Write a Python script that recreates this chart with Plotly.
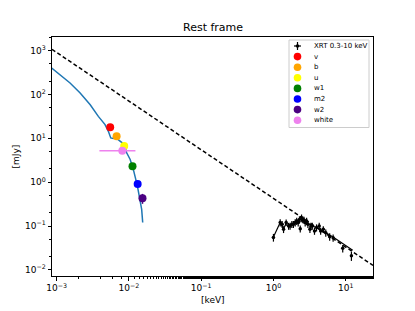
import plotly.graph_objects as go

# ---------------- data ----------------
# power-law (dashed)
pl_x = [8.6e-4, 23.9]
pl_y = [1072, 0.0126]

# optical/UV model curve (blue)
model_x = [8.53e-4, 1.11e-3, 1.53e-3, 2.11e-3, 2.91e-3, 3.77e-3, 4.67e-3, 5.19e-3, 5.6e-3,
           6.08e-3, 6.5e-3, 7.1e-3, 8.0e-3, 8.8e-3, 9.3e-3, 1.04e-2, 1.15e-2, 1.31e-2, 1.43e-2,
           1.50e-2, 1.55e-2]
model_y = [398, 281, 182, 108, 58, 31.6, 20.5, 14.4, 10.2,
           9.9, 10.6, 9.3, 8.0, 6.6, 4.66, 3.3, 1.95, 0.81, 0.41,
           0.24, 0.12]

# UVOT filters
uv_names = ["v", "b", "u", "w1", "m2", "w2", "white"]
uv_colors = ["red", "orange", "yellow", "green", "blue", "indigo", "violet"]
uv_x = [5.5e-3, 6.75e-3, 8.6e-3, 1.12e-2, 1.32e-2, 1.54e-2, 8.1e-3]
uv_y = [17.8, 11.2, 6.7, 2.3, 0.91, 0.43, 5.2]
uv_xerr_minus = [0, 0, 0, 0, 0, 0.0012, 0.0042]
uv_xerr_plus = [0, 0, 0, 0, 0, 0.0013, 0.0042]
uv_yerr = [0, 0, 0, 0, 0, 0.11, 0]

# XRT 0.3-10 keV
xrt_x = [1.00, 1.24, 1.32, 1.38, 1.50, 1.62, 1.70, 1.80, 1.89, 2.00, 2.10, 2.20, 2.29, 2.35, 2.45,
         2.55, 2.65, 2.75, 2.88, 3.00, 3.20, 3.30, 3.45, 3.70, 3.95, 4.30, 4.50, 4.90, 5.30, 6.00,
         6.70, 9.10, 12.0]
xrt_y = [0.055, 0.12, 0.11, 0.084, 0.12, 0.10, 0.10, 0.11, 0.11, 0.12, 0.13, 0.12, 0.14, 0.087, 0.155,
         0.14, 0.137, 0.12, 0.13, 0.11, 0.084, 0.10, 0.10, 0.077, 0.092, 0.10, 0.077, 0.084, 0.07, 0.057,
         0.054, 0.031, 0.021]
xrt_yerr = [0.011, 0.022, 0.02, 0.015, 0.02, 0.018, 0.018, 0.02, 0.02, 0.022, 0.024, 0.022, 0.026, 0.016, 0.028,
            0.025, 0.025, 0.022, 0.024, 0.02, 0.015, 0.018, 0.018, 0.014, 0.017, 0.018, 0.014, 0.015, 0.013, 0.011,
            0.01, 0.006, 0.005]
xrt_xerr = [0.05, 0.04, 0.04, 0.04, 0.04, 0.05, 0.05, 0.05, 0.05, 0.05, 0.05, 0.05, 0.05, 0.05, 0.05,
            0.05, 0.05, 0.05, 0.06, 0.06, 0.07, 0.07, 0.07, 0.08, 0.08, 0.1, 0.1, 0.1, 0.12, 0.15,
            0.2, 0.3, 0.4]
xrt_line_x = [1.0, 1.24, 1.38, 1.5, 1.7, 2.0, 2.3, 2.6, 3.0, 3.5, 4.0, 5.0, 6.0, 7.0, 12.5]
xrt_line_y = [0.056, 0.12, 0.085, 0.115, 0.105, 0.115, 0.125, 0.125, 0.115, 0.1, 0.09, 0.075, 0.062, 0.053, 0.028]

legend_labels = ["XRT 0.3-10 keV"] + uv_names
legend_colors = ["black"] + uv_colors

x_tick_vals = [1e-3, 1e-2, 1e-1, 1, 10]
x_tick_text = ["10<sup>−3</sup>", "10<sup>−2</sup>", "10<sup>−1</sup>", "10<sup>0</sup>", "10<sup>1</sup>"]
y_tick_vals = [1e-2, 1e-1, 1, 10, 100, 1000]
y_tick_text = ["10<sup>−2</sup>", "10<sup>−1</sup>", "10<sup>0</sup>", "10<sup>1</sup>", "10<sup>2</sup>",
               "10<sup>3</sup>"]

# ---------------- figure ----------------
FONT = "DejaVu Sans"
fig = go.Figure()

fig.add_trace(go.Scatter(x=pl_x, y=pl_y, mode="lines",
                         line=dict(color="black", width=1.5, dash="4px,2.5px"), showlegend=False))
fig.add_trace(go.Scatter(x=model_x, y=model_y, mode="lines",
                         line=dict(color="#1f77b4", width=1.5), showlegend=False))
fig.add_trace(go.Scatter(x=xrt_line_x, y=xrt_line_y, mode="lines",
                         line=dict(color="black", width=1.2), showlegend=False))
fig.add_trace(go.Scatter(x=xrt_x, y=xrt_y, mode="markers",
                         marker=dict(color="black", size=3.5),
                         error_y=dict(type="data", array=xrt_yerr, color="black", thickness=1.2, width=0),
                         error_x=dict(type="data", array=xrt_xerr, color="black", thickness=1.2, width=0),
                         showlegend=False))
for i in range(len(uv_names)):
    fig.add_trace(go.Scatter(
        x=[uv_x[i]], y=[uv_y[i]], mode="markers",
        marker=dict(color=uv_colors[i], size=8),
        error_x=dict(type="data", symmetric=False, array=[uv_xerr_plus[i]], arrayminus=[uv_xerr_minus[i]],
                     color=uv_colors[i], thickness=1.5, width=0, visible=uv_xerr_plus[i] > 0),
        error_y=dict(type="data", array=[uv_yerr[i]], color=uv_colors[i], thickness=1.5, width=0,
                     visible=uv_yerr[i] > 0),
        showlegend=False))

# ---------------- manual legend (paper coordinates) ----------------
L, R, T, B = 289, 369, 40, 127.5
X0, X1, Y0, Y1 = 52, 373, 37, 276


def px(x):
    return (x - X0) / (X1 - X0)


def py(y):
    return (Y1 - y) / (Y1 - Y0)


shapes = [dict(type="rect", xref="paper", yref="paper", x0=px(L), x1=px(R), y0=py(B), y1=py(T),
               line=dict(color="#cccccc", width=1), fillcolor="rgba(255,255,255,0.8)", layer="above")]
annotations = []
for i, (lab, col) in enumerate(zip(legend_labels, legend_colors)):
    yc = 46 + i * 10.6
    if i == 0:
        shapes.append(dict(type="line", xref="paper", yref="paper", xsizemode="pixel", ysizemode="pixel",
                           xanchor=px(297.5), yanchor=py(yc), x0=-3.5, x1=3.5, y0=0, y1=0,
                           line=dict(color="black", width=1.2), layer="above"))
        shapes.append(dict(type="line", xref="paper", yref="paper", xsizemode="pixel", ysizemode="pixel",
                           xanchor=px(297.5), yanchor=py(yc), x0=0, x1=0, y0=-4, y1=4,
                           line=dict(color="black", width=1.2), layer="above"))
        shapes.append(dict(type="circle", xref="paper", yref="paper", xsizemode="pixel", ysizemode="pixel",
                           xanchor=px(297.5), yanchor=py(yc), x0=-1.8, x1=1.8, y0=-1.8, y1=1.8,
                           fillcolor="black", line=dict(width=0), layer="above"))
    else:
        shapes.append(dict(type="circle", xref="paper", yref="paper", xsizemode="pixel", ysizemode="pixel",
                           xanchor=px(297.5), yanchor=py(yc), x0=-3.8, x1=3.8, y0=-3.8, y1=3.8,
                           fillcolor=col, line=dict(width=0), layer="above"))
    annotations.append(dict(text=lab, xref="paper", yref="paper", x=px(312), y=py(yc),
                            xanchor="left", yanchor="middle", showarrow=False,
                            font=dict(family=FONT, size=7, color="black")))

# title and axis titles as annotations for exact placement
annotations.append(dict(text="Rest frame", xref="paper", yref="paper", x=0.5, y=py(27),
                        xanchor="center", yanchor="middle", showarrow=False,
                        font=dict(family=FONT, size=11, color="black")))
annotations.append(dict(text="[keV]", xref="paper", yref="paper", x=0.5, y=py(300),
                        xanchor="center", yanchor="middle", showarrow=False,
                        font=dict(family=FONT, size=9, color="black")))
annotations.append(dict(text="[mJy]", xref="paper", yref="paper", x=px(15), y=0.5, textangle=-90,
                        xanchor="center", yanchor="middle", showarrow=False,
                        font=dict(family=FONT, size=9, color="black")))

axis_common = dict(type="log", showgrid=False, zeroline=False, showline=True, linecolor="black",
                   linewidth=1, mirror=True, ticks="outside", ticklen=3.5, tickwidth=0.8, tickcolor="black",
                   automargin=False, tickfont=dict(family=FONT, size=9, color="black"),
                   minor=dict(ticks="outside", ticklen=2, tickwidth=0.6, tickcolor="black", showgrid=False))

fig.update_layout(
    width=415, height=311,
    margin=dict(l=52, r=42, t=37, b=35),
    paper_bgcolor="white", plot_bgcolor="white",
    showlegend=False,
    xaxis=dict(axis_common, range=[-3.065, 1.378], tickvals=x_tick_vals, ticktext=x_tick_text),
    yaxis=dict(axis_common, range=[-2.14, 3.31], tickvals=y_tick_vals, ticktext=y_tick_text),
    shapes=shapes, annotations=annotations,
)

fig.write_html("out.html", config={"displayModeBar": False},
               post_script="document.body.style.margin='0';document.body.style.overflow='hidden';")
